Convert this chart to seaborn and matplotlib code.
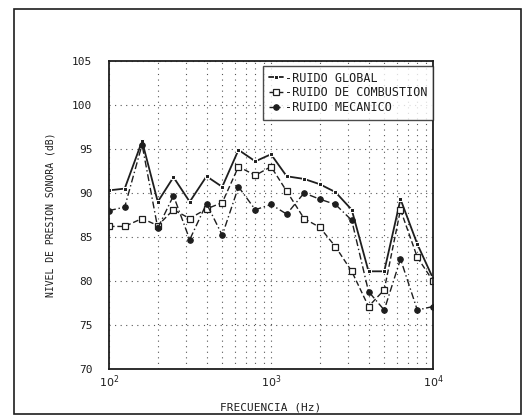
import numpy as np
import pandas as pd
import matplotlib
matplotlib.use("Agg")
import matplotlib.pyplot as plt
import seaborn as sns
from matplotlib.ticker import FixedLocator, NullFormatter, LogLocator

freq = [100, 125, 160, 200, 250, 315, 400, 500, 630, 800, 1000,
        1250, 1600, 2000, 2500, 3150, 4000, 5000, 6300, 8000, 10000]
ruido_global = [90.3, 90.5, 95.9, 89.0, 91.8, 89.0, 91.9, 90.7, 94.9, 93.6, 94.4,
                91.9, 91.6, 91.0, 90.1, 88.1, 81.1, 81.1, 89.3, 84.2, 80.3]
ruido_combustion = [86.2, 86.2, 87.1, 86.3, 88.1, 87.1, 88.2, 88.9, 93.0, 92.0, 93.0,
                    90.2, 87.1, 86.1, 83.9, 81.1, 77.1, 79.0, 88.1, 82.7, 80.0]
ruido_mecanico = [88.0, 88.4, 95.5, 86.0, 89.7, 84.7, 88.8, 85.2, 90.7, 88.1, 88.7,
                  87.6, 90.0, 89.3, 88.7, 86.9, 78.8, 76.7, 82.5, 76.7, 77.1]
labels = ["RUIDO GLOBAL", "RUIDO DE COMBUSTION", "RUIDO MECANICO"]
y_ticks = [70, 75, 80, 85, 90, 95, 100, 105]
y_ticklabels = ["70", "75", "80", "85", "90", "95", "100", "105"]

sns.set_style("white")
plt.rcParams['font.family'] = ['DejaVu Sans Mono', 'DejaVu Sans']

ink = "#1e1e1e"
fig = plt.figure(figsize=(5.23, 4.17), dpi=100)
ax = fig.add_axes([109/523, 1-369/417, (433-109)/523, (369-61)/417])

df = pd.DataFrame({"f": freq, "g": ruido_global, "c": ruido_combustion, "m": ruido_mecanico})

sns.lineplot(data=df, x="f", y="g", ax=ax, color=ink, lw=1.3, linestyle="-",
             marker="s", markersize=2.5, label="-" + labels[0])
sns.lineplot(data=df, x="f", y="c", ax=ax, color=ink, lw=1.0, linestyle=(0, (4, 2)),
             marker="s", markersize=4, markerfacecolor="white", markeredgecolor=ink,
             markeredgewidth=0.9, label="-" + labels[1])
sns.lineplot(data=df, x="f", y="m", ax=ax, color=ink, lw=1.0, linestyle=(0, (5, 2, 1, 2)),
             marker="o", markersize=4, markerfacecolor=ink, markeredgecolor=ink,
             label="-" + labels[2])

ax.set_xscale("log")
ax.set_xlim(100, 10000)
ax.set_ylim(70, 105)
ax.set_xticks([100, 1000, 10000])
ax.set_xticklabels([r"$10^{2}$", r"$10^{3}$", r"$10^{4}$"], fontsize=8, color=ink)
ax.xaxis.set_minor_locator(LogLocator(base=10, subs=np.arange(2, 10)))
ax.xaxis.set_minor_formatter(NullFormatter())
ax.set_yticks(y_ticks)
ax.set_yticklabels(y_ticklabels, fontsize=8, color=ink)
ax.yaxis.set_minor_locator(FixedLocator(np.arange(70, 106, 1)))

ax.grid(True, which="both", axis="x", linestyle=(0, (1, 4)), color="#555555", lw=0.8)
ax.grid(True, which="major", axis="y", linestyle=(0, (1, 4)), color="#555555", lw=0.8)

ax.tick_params(axis="both", which="both", direction="in", colors=ink)
ax.tick_params(axis="y", which="major", length=5, width=1.0, pad=12)
ax.tick_params(axis="y", which="minor", length=3, width=0.8)
ax.tick_params(axis="x", which="major", length=5, width=1.0, pad=3)
ax.tick_params(axis="x", which="minor", length=3, width=0.8)
for s in ax.spines.values():
    s.set_color(ink)
    s.set_linewidth(1.3)
    s.set_visible(True)

ax.set_xlabel("FRECUENCIA (Hz)", fontsize=8, color=ink, labelpad=9)
ax.set_ylabel("NIVEL DE PRESION SONORA (dB)", fontsize=7, color=ink, labelpad=12)

leg = ax.legend(loc="upper right", bbox_to_anchor=(1.0, 0.985), frameon=True, fancybox=False,
                edgecolor=ink, fontsize=8.5, handlelength=1.2, handletextpad=0.1,
                labelspacing=0.15, borderpad=0.5, borderaxespad=0.0)
leg.get_frame().set_linewidth(1.0)
for t in leg.get_texts():
    t.set_color(ink)

fig.patches.append(plt.Rectangle((14/523, 1-414/417), (521-14)/523, (414-9)/417,
                                 transform=fig.transFigure, fill=False,
                                 edgecolor=ink, lw=1.2))

fig.savefig("out.png", dpi=100, facecolor="white")
